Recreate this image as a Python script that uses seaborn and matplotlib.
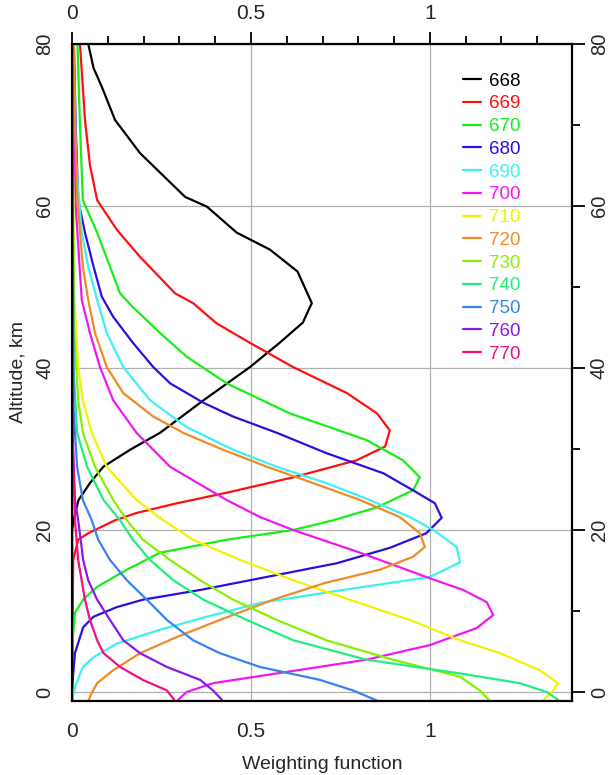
import numpy as np
import pandas as pd
import matplotlib
matplotlib.use("Agg")
import matplotlib.pyplot as plt
from matplotlib.ticker import MultipleLocator
from matplotlib.lines import Line2D
import seaborn as sns

# channel names and colours
channels = ["668", "669", "670", "680", "690", "700", "710",
            "720", "730", "740", "750", "760", "770"]
colors = ["#000000", "#ff1010", "#18ee18", "#2a10e0", "#3ff0f0", "#f018f0",
          "#f2f200", "#f08a25", "#88f000", "#22ee80", "#3a82f0", "#8a18e8",
          "#f01080"]

# weighting functions (altitude km, weight)
alt_668 = [-1.1, 20, 21.2, 23.7, 25.8, 27.8, 29.9, 32, 36, 40.1, 43.1, 45.6, 48,
           51.9, 54.6, 56.7, 59.9, 61.1, 66.5, 70.6, 74.7, 77, 80]
w_668 = [0, 0, 0.004, 0.018, 0.05, 0.087, 0.162, 0.246, 0.367, 0.497, 0.58, 0.645,
         0.67, 0.63, 0.553, 0.46, 0.377, 0.316, 0.19, 0.12, 0.083, 0.06, 0.045]

alt_669 = [-1.1, 16.3, 18.8, 19.6, 21.2, 22.1, 23.3, 24.6, 26.5, 28.6, 30.3, 32.3,
           34.4, 36.9, 40.1, 43.1, 45.5, 48, 49.2, 53.7, 57, 60.7, 65, 70.6, 80]
w_669 = [0, 0.003, 0.017, 0.045, 0.12, 0.18, 0.293, 0.432, 0.618, 0.795, 0.875,
         0.888, 0.852, 0.768, 0.618, 0.497, 0.404, 0.338, 0.288, 0.19, 0.126, 0.07,
         0.05, 0.036, 0.022]

alt_670 = [-1.1, 5.6, 9.8, 11.4, 13, 15.1, 17.2, 18.8, 20, 21.2, 22.8, 24.9, 26.5,
           28.6, 31.1, 34.4, 38.1, 41.4, 44.3, 47.5, 49.2, 52.5, 56.7, 60.7, 70, 80]
w_670 = [0, 0, 0.008, 0.031, 0.07, 0.153, 0.246, 0.432, 0.618, 0.73, 0.852, 0.953,
         0.972, 0.925, 0.823, 0.608, 0.432, 0.32, 0.246, 0.17, 0.134, 0.106, 0.07,
         0.03, 0.022, 0.015]

alt_680 = [-1.1, 0.6, 4.8, 8, 9.3, 10.5, 11.4, 12.6, 13.8, 15.9, 17.8, 19.6, 21.5,
           23.3, 24.9, 27, 29.5, 32, 34, 35.7, 38.1, 40.1, 43.1, 46.3, 48.8, 52.5,
           56.7, 60.7, 70, 80]
w_680 = [0, 0, 0.008, 0.031, 0.06, 0.126, 0.198, 0.358, 0.497, 0.74, 0.888, 0.99,
         1.033, 1.014, 0.953, 0.87, 0.71, 0.572, 0.45, 0.367, 0.274, 0.227, 0.17,
         0.115, 0.083, 0.06, 0.036, 0.017, 0.01, 0.005]

alt_690 = [-1.1, 0.6, 3.1, 4.3, 6, 7.7, 9.3, 11, 12.6, 14.2, 15.4, 16, 17.9, 20,
           21.6, 23.7, 25.8, 27.8, 29.9, 32.7, 36, 40.1, 44.3, 48.4, 52.5, 56.7, 65, 80]
w_690 = [0, 0.008, 0.03, 0.06, 0.126, 0.246, 0.377, 0.525, 0.757, 1.0, 1.056, 1.084,
         1.075, 1.01, 0.944, 0.832, 0.71, 0.572, 0.45, 0.32, 0.218, 0.143, 0.097,
         0.07, 0.045, 0.027, 0.012, 0.003]

alt_700 = [-1.1, 0, 1.1, 2.3, 4, 5.8, 7.9, 9.5, 11.1, 12.6, 14.2, 17.2, 20, 21.6,
           23.7, 27.8, 32, 36, 40.1, 44.3, 48.4, 60, 80]
w_700 = [0.293, 0.32, 0.394, 0.572, 0.823, 1.0, 1.131, 1.177, 1.159, 1.093, 0.99,
         0.805, 0.618, 0.525, 0.432, 0.274, 0.18, 0.115, 0.078, 0.05, 0.027, 0.01, 0.002]

alt_710 = [-1.1, 0.2, 1.1, 2.7, 4.8, 6.4, 8.9, 11.4, 13.8, 16.3, 18.8, 21.2, 23.7,
           27.8, 32, 36, 40.1, 50, 80]
w_710 = [1.316, 1.344, 1.358, 1.307, 1.196, 1.084, 0.944, 0.776, 0.618, 0.47, 0.338,
         0.255, 0.18, 0.097, 0.055, 0.03, 0.017, 0.005, 0]

alt_720 = [-1.1, -0.1, 1.1, 2.7, 4.8, 6.8, 8.9, 11.4, 13.5, 15.1, 16.7, 17.9, 19.6,
           21.6, 23.7, 25.8, 27.8, 29.9, 32, 34, 36.9, 40.1, 44.3, 48.4, 52.5, 60.7,
           70, 80]
w_720 = [0.045, 0.055, 0.07, 0.115, 0.19, 0.293, 0.413, 0.562, 0.71, 0.86, 0.953,
         0.986, 0.972, 0.916, 0.805, 0.673, 0.545, 0.422, 0.31, 0.227, 0.143, 0.097,
         0.064, 0.045, 0.03, 0.015, 0.008, 0.005]

alt_730 = [-1.1, 0.2, 1.9, 4, 6.4, 8.9, 11.4, 13.8, 16.3, 18.8, 21.2, 23.7, 27.8,
           32, 36, 45, 80]
w_730 = [1.168, 1.14, 1.084, 0.897, 0.71, 0.572, 0.45, 0.358, 0.274, 0.198, 0.153,
         0.115, 0.064, 0.03, 0.017, 0.005, 0]

alt_740 = [-1.1, 0, 1.1, 2.3, 4, 6.4, 8.9, 11.4, 13.8, 16.3, 18.8, 21.2, 23.7, 27.8,
           32, 40, 80]
w_740 = [1.363, 1.327, 1.251, 1.084, 0.823, 0.618, 0.488, 0.367, 0.283, 0.218, 0.17,
         0.134, 0.088, 0.042, 0.014, 0.004, 0]

alt_750 = [-1.1, 0.2, 1.5, 3.1, 4.8, 6.4, 8.9, 11.4, 13.8, 16.3, 18.8, 21.2, 23.7,
           27.8, 35, 80]
w_750 = [0.855, 0.785, 0.693, 0.525, 0.413, 0.338, 0.265, 0.209, 0.153, 0.106,
         0.073, 0.055, 0.03, 0.014, 0.004, 0]

alt_760 = [-1.1, 0.2, 1.5, 3.1, 4.8, 6.4, 8.9, 11.4, 13.8, 16.3, 18.8, 21.2, 23.7,
           30, 80]
w_760 = [0.422, 0.394, 0.358, 0.265, 0.19, 0.143, 0.106, 0.07, 0.045, 0.031, 0.024,
         0.017, 0.008, 0.003, 0]

alt_770 = [-1.1, 0.2, 1.5, 3.1, 4.8, 6.4, 8.9, 11.4, 16.3, 21.2, 30, 80]
w_770 = [0.288, 0.265, 0.198, 0.134, 0.088, 0.07, 0.05, 0.036, 0.017, 0.008, 0.002, 0]

alts = [alt_668, alt_669, alt_670, alt_680, alt_690, alt_700, alt_710,
        alt_720, alt_730, alt_740, alt_750, alt_760, alt_770]
weights = [w_668, w_669, w_670, w_680, w_690, w_700, w_710,
           w_720, w_730, w_740, w_750, w_760, w_770]

frames = []
for ch, a, w in zip(channels, alts, weights):
    frames.append(pd.DataFrame({"channel": ch, "alt": a, "weight": w}))
df = pd.concat(frames, ignore_index=True)

sns.set_style("white")
plt.rcParams["font.family"] = ["Liberation Sans", "DejaVu Sans"]

fig = plt.figure(figsize=(6.11, 7.75), dpi=100)
ax = fig.add_axes([0.118, 0.0955, 0.818, 0.848])

sns.lineplot(data=df, x="weight", y="alt", hue="channel", hue_order=channels,
             palette=colors, sort=False, estimator=None, orient="y",
             linewidth=1.6, legend=False, ax=ax)

ax.set_xlim(0, 1.397)
ax.set_ylim(-1.1, 80)
ax.xaxis.set_major_locator(MultipleLocator(0.5))
ax.xaxis.set_minor_locator(MultipleLocator(0.1))
ax.yaxis.set_major_locator(MultipleLocator(20))
ax.yaxis.set_minor_locator(MultipleLocator(10))
ax.set_xticks([0, 0.5, 1])
ax.set_xticklabels(["0", "0.5", "1"])

ax.grid(True, which="major", color="#b0b0b0", linewidth=0.9)
ax.set_axisbelow(True)
for sp in ax.spines.values():
    sp.set_visible(True)
    sp.set_color("black")
    sp.set_linewidth(1.6)

ax.tick_params(which="both", direction="out", top=True, right=True,
               labeltop=True, labelright=True, color="black", width=1.3)
ax.tick_params(which="major", length=9, labelsize=15, pad=6)
ax.tick_params(which="minor", length=6)
ax.tick_params(axis="y", which="major", labelrotation=90, pad=4, labelsize=14.5)
for t in ax.yaxis.get_major_ticks():
    t.label1.set_va("center")
    t.label2.set_va("center")

ax.set_xlabel("Weighting function", fontsize=14, labelpad=11)
ax.set_ylabel("Altitude, km", fontsize=14, labelpad=6)

handles = [Line2D([0], [0], color=c, lw=1.6) for c in colors]
leg = ax.legend(handles, channels, loc="upper left", bbox_to_anchor=(0.748, 0.982),
                frameon=False, fontsize=13.5, handlelength=0.95, handletextpad=0.45,
                labelspacing=0.3, labelcolor=colors)

fig.savefig("out.png", dpi=100)
